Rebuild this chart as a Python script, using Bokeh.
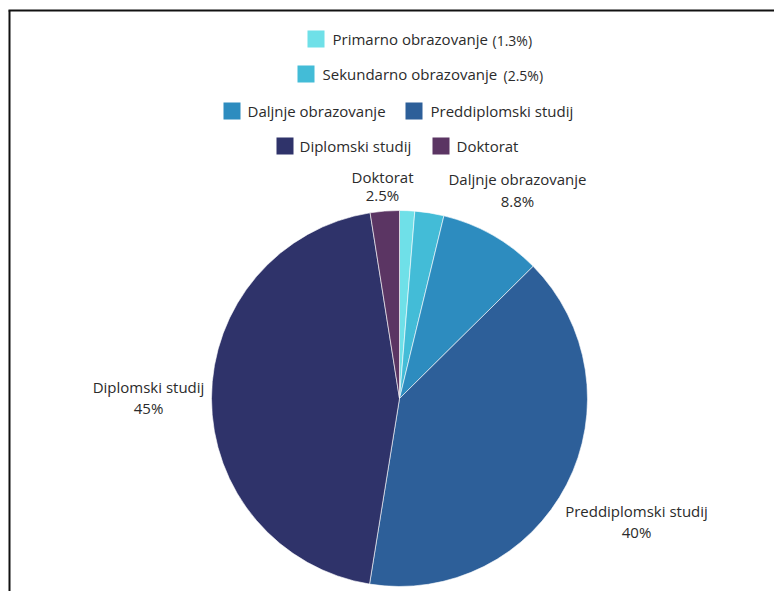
import math
from bokeh.plotting import figure
from bokeh.models import Range1d, ColumnDataSource
from bokeh.core.properties import value
from bokeh.embed import file_html
from bokeh.resources import INLINE

# ---- data ----
categories = ["Primarno obrazovanje", "Sekundarno obrazovanje", "Daljnje obrazovanje",
              "Preddiplomski studij", "Diplomski studij", "Doktorat"]
shares = [1.3, 2.5, 8.8, 40, 45, 2.5]
colors = ["#6fe0e8", "#43bcd7", "#2d8cbf", "#2d5f99", "#2f336a", "#5b3563"]
legend_pct_shown = ["Primarno obrazovanje", "Sekundarno obrazovanje"]
pie_labelled = ["Daljnje obrazovanje", "Preddiplomski studij", "Diplomski studij", "Doktorat"]

# ---- layout (page pixel coordinates, converted below) ----
W, H = 774, 591
TXT_SHIFT = 7  # svg baseline correction
def X(px):
    return px
def Y(py):
    return H - py
def YT(py):
    return H - (py - TXT_SHIFT)

FONT = "Open Sans"
TXT = "#2b2b2b"
FS = "15px"

p = figure(width=W, height=H, output_backend="svg", toolbar_location=None,
           x_range=Range1d(0, W), y_range=Range1d(0, H), min_border=0)
p.axis.visible = False
p.grid.visible = False
p.outline_line_color = None
p.background_fill_color = "white"

# border (top and left edges visible in the reference crop)
p.segment(x0=[X(9), X(8)], y0=[Y(10), Y(10)], x1=[X(9), X(W)], y1=[Y(H + 5), Y(10)],
          line_color="#111111", line_width=2)

# ---- pie ----
cx, cy, R = X(399), Y(398), 188
total = sum(shares)
starts, ends = [], []
cum = 0.0
for s in shares:
    a0 = math.pi / 2 - 2 * math.pi * cum / total
    cum += s
    a1 = math.pi / 2 - 2 * math.pi * cum / total
    starts.append(a0)
    ends.append(a1)

src = ColumnDataSource(dict(start=starts, end=ends, color=colors, cat=categories, share=shares))
p.wedge(x=cx, y=cy, radius=R, radius_units="screen", start_angle="start", end_angle="end",
        direction="clock", fill_color="color", line_color="white", line_width=0.6, source=src)

# ---- pie labels (text positions: page pixel baselines) ----
label_pos = {
    "Doktorat": (382, 183, 201),
    "Daljnje obrazovanje": (517, 185, 207),
    "Diplomski studij": (148, 393, 414),
    "Preddiplomski studij": (636, 517, 538),
}
lx, ly1, ly2, t1, t2 = [], [], [], [], []
for c, s in zip(categories, shares):
    if c in pie_labelled:
        x0, b1, b2 = label_pos[c]
        lx.append(X(x0)); ly1.append(YT(b1)); ly2.append(YT(b2))
        t1.append(c); t2.append(f"{s:g}%")
p.text(x=lx, y=ly1, text=t1, text_font=value(FONT), text_font_size=FS, text_color=TXT,
       text_align="center", text_baseline="alphabetic")
p.text(x=lx, y=ly2, text=t2, text_font=value(FONT), text_font_size=FS, text_color=TXT,
       text_align="center", text_baseline="alphabetic")

# ---- legend ----
row_baseline = [45, 80, 117, 117, 152, 152]
sq_left = [307, 297, 223, 405, 276, 432]
txt_left = [332, 322, 247, 430, 299, 456]
pct_left = {"Primarno obrazovanje": 492, "Sekundarno obrazovanje": 503}
SQ = 17
p.rect(x=[X(l) + SQ / 2 for l in sq_left], y=[Y(b - 6.5) for b in row_baseline],
       width=SQ, height=SQ, fill_color=colors, line_color=None)
p.text(x=[X(t) for t in txt_left], y=[YT(b) for b in row_baseline], text=categories,
       text_font=value(FONT), text_font_size=FS, text_color=TXT,
       text_align="left", text_baseline="alphabetic")
px_, py_, pt_ = [], [], []
for c, s, b in zip(categories, shares, row_baseline):
    if c in legend_pct_shown:
        px_.append(X(pct_left[c])); py_.append(YT(b + 2)); pt_.append(f"({s:g}%)")
p.text(x=px_, y=py_, text=pt_, text_font=value(FONT), text_font_size="14px", text_color=TXT,
       text_align="left", text_baseline="alphabetic")

open("out.html", "w").write(file_html(p, INLINE))
